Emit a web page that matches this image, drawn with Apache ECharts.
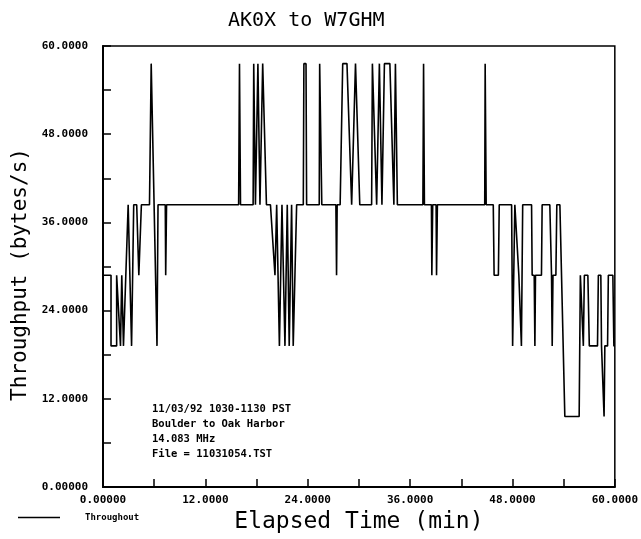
<!DOCTYPE html>
<html>
<head>
<meta charset="utf-8">
<script src="https://cdn.jsdelivr.net/npm/echarts@6/dist/echarts.min.js"></script>
<style>
html,body{margin:0;padding:0;background:#fff;}
#chart{width:641px;height:539px;}
</style>
</head>
<body>
<div id="chart"></div>
<script>
// Elapsed time (min) of each plotted vertex
const timeMin = [
  0,0.94,0.94,1.6,1.6,1.8,2.05,2.2,2.4,2.95,3.1,3.35,3.6,3.95,4.2,4.5,5.45,5.65,6.33,6.45,7.3,7.35,7.45,
  15.9,16.0,16.12,17.6,17.67,17.87,18.16,18.4,18.72,18.95,19.16,19.63,20.16,20.36,20.68,20.98,21.33,21.6,21.83,22.11,22.3,22.5,22.7,
  23.48,23.55,23.8,23.87,25.35,25.4,25.55,25.65,27.3,27.38,27.45,27.8,28.1,28.6,29.15,29.3,29.6,30.1,
  31.49,31.58,31.76,32.08,32.23,32.4,32.7,32.99,33.63,34.1,34.28,34.51,
  37.5,37.58,37.68,38.5,38.55,38.65,39.05,39.1,39.2,
  44.75,44.8,44.92,45.75,45.85,46.35,46.45,47.9,48.02,48.28,48.5,48.75,49.05,49.2,
  50.24,50.31,50.55,50.63,50.7,51.4,51.48,52.38,52.58,52.66,52.75,53.09,53.2,53.56,54.14,
  55.82,55.96,56.13,56.31,56.43,56.84,57.01,57.97,58.07,58.36,58.44,58.65,58.74,58.83,59.15,59.24,59.77,59.89,60
];
// Throughput (bytes/s) at each vertex
const throughput = [
  28.8,28.8,19.2,19.2,28.8,28.8,19.2,28.8,19.2,38.4,38.4,19.2,38.4,38.4,28.8,38.4,38.4,57.6,19.2,38.4,38.4,28.8,38.4,
  38.4,57.6,38.4,38.4,57.6,38.4,57.6,38.4,57.6,57.6,38.4,38.4,28.8,38.4,19.2,38.4,19.2,38.4,19.2,38.4,19.2,28.8,38.4,
  38.4,57.6,57.6,38.4,38.4,57.6,57.6,38.4,38.4,28.8,38.4,38.4,57.6,57.6,38.4,38.4,57.6,38.4,
  38.4,57.6,57.6,38.4,38.4,57.6,38.4,57.6,57.6,38.4,57.6,38.4,
  38.4,57.6,38.4,38.4,28.8,38.4,38.4,28.8,38.4,
  38.4,57.6,38.4,38.4,28.8,28.8,38.4,38.4,19.2,38.4,38.4,28.8,19.2,38.4,
  38.4,28.8,28.8,19.2,28.8,28.8,38.4,38.4,28.8,19.2,28.8,28.8,38.4,38.4,9.6,
  9.6,28.8,28.8,19.2,28.8,28.8,19.2,19.2,28.8,28.8,19.2,19.2,9.6,19.2,19.2,28.8,28.8,19.2,19.2
];
const xTicks = [0,12,24,36,48,60];
const xTickLabels = ["0.00000","12.0000","24.0000","36.0000","48.0000","60.0000"];
const yTicks = [0,12,24,36,48,60];
const yTickLabels = ["0.00000","12.0000","24.0000","36.0000","48.0000","60.0000"];
const titleText = "AK0X to W7GHM";
const xName = "Elapsed Time (min)";
const yName = "Throughput (bytes/s)";
const seriesName = "Throughout";
const noteLines = ["11/03/92 1030-1130 PST","Boulder to Oak Harbor","14.083 MHz","File = 11031054.TST"];

const MONO = '"DejaVu Sans Mono", "Liberation Mono", monospace';
const points = timeMin.map((t,i)=>[t, throughput[i]]);
function lab(ticks, labels){
  return function(v){ const i = ticks.indexOf(v); return i>=0 ? labels[i] : ''; };
}
const chart = echarts.init(document.getElementById('chart'), null, {renderer:'canvas'});
chart.setOption({
  animation:false,
  backgroundColor:'#fff',
  title:{
    text:titleText, left:223, top:6,
    textStyle:{fontFamily:MONO, fontSize:20, fontWeight:'normal', color:'#000'}
  },
  legend:{
    left:13, top:508, icon:'rect', itemWidth:42, itemHeight:1.5,
    data:[seriesName],
    textStyle:{fontFamily:MONO, fontSize:9, fontWeight:'bold', color:'#000', padding:[0,0,0,20]}
  },
  grid:{left:103, right:26, top:46, bottom:52, show:true, borderColor:'#000', borderWidth:1.5, backgroundColor:'transparent'},
  xAxis:{
    type:'value', min:0, max:60, interval:12,
    name:xName, nameLocation:'middle', nameGap:22,
    nameTextStyle:{fontFamily:MONO, fontSize:23, color:'#000', verticalAlign:'top'},
    axisLine:{lineStyle:{color:'#000', width:2}},
    axisTick:{show:true, inside:true, length:8, lineStyle:{color:'#000', width:1.5}},
    minorTick:{show:true, splitNumber:2, length:8, lineStyle:{color:'#000', width:1.5}},
    splitLine:{show:false},
    axisLabel:{formatter:lab(xTicks,xTickLabels), fontFamily:MONO, fontWeight:'bold', fontSize:11, color:'#000', margin:8}
  },
  yAxis:{
    type:'value', min:0, max:60, interval:12,
    name:yName, nameLocation:'middle', nameGap:71,
    nameTextStyle:{fontFamily:MONO, fontSize:21, color:'#000', padding:[0,16,0,0]},
    axisLine:{lineStyle:{color:'#000', width:2}},
    axisTick:{show:true, inside:true, length:8, lineStyle:{color:'#000', width:1.5}},
    minorTick:{show:true, splitNumber:2, length:8, lineStyle:{color:'#000', width:1.5}},
    splitLine:{show:false},
    axisLabel:{formatter:lab(yTicks,yTickLabels), fontFamily:MONO, fontWeight:'bold', fontSize:11, color:'#000', margin:15}
  },
  series:[{
    name:seriesName, type:'line', data:points, showSymbol:false, symbol:'none',
    lineStyle:{color:'#000', width:1.6, join:'bevel'},
    itemStyle:{color:'#000'},
    clip:true
  }],
  graphic:[{
    type:'text', left:152, top:402,
    style:{text:noteLines.join('\n'), font:'bold 10.5px '+MONO, fill:'#000', lineHeight:15}
  }]
});
</script>
</body>
</html>
